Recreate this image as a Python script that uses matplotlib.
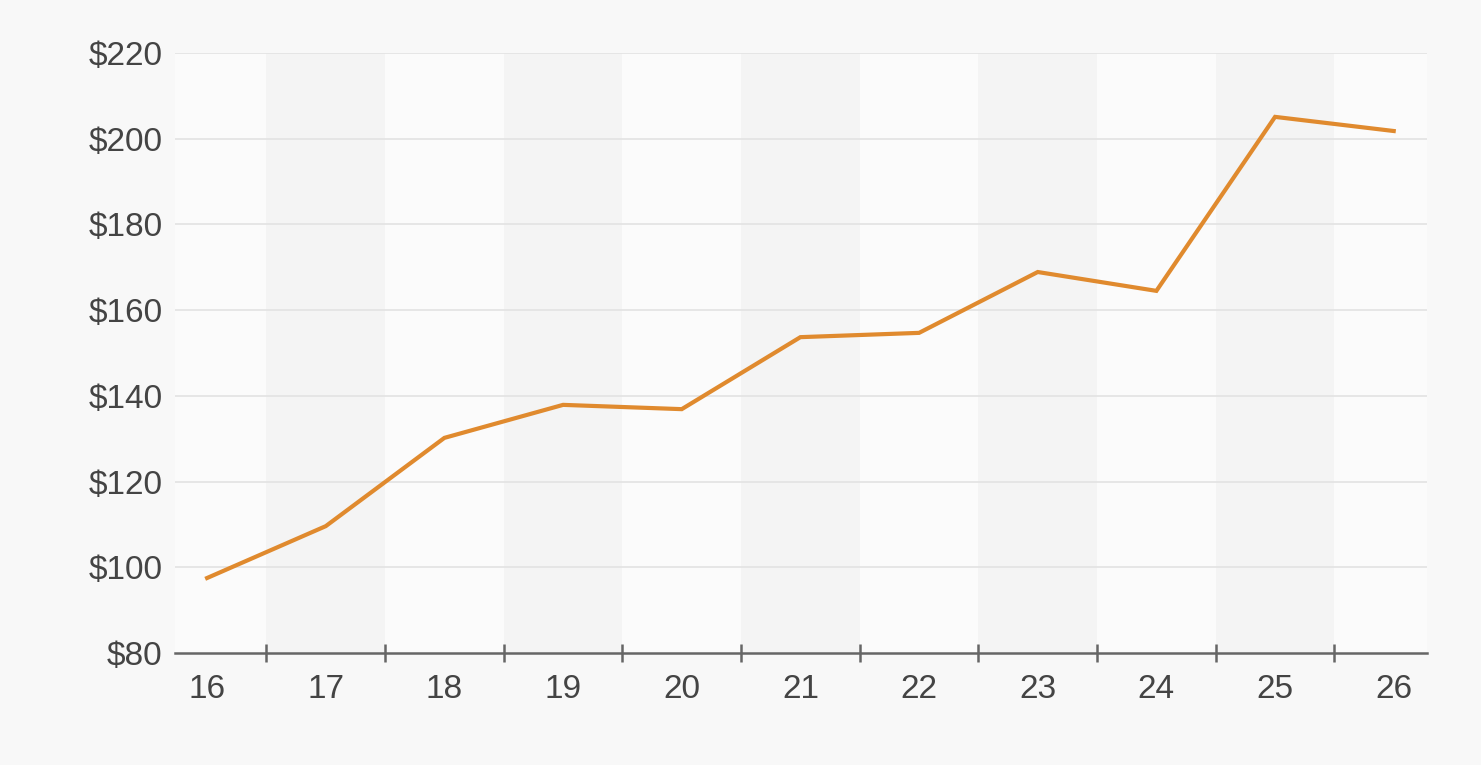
import numpy as np
import matplotlib.pyplot as plt
from matplotlib.ticker import FixedLocator, FuncFormatter

# values
ages = ["16", "17", "18", "19", "20", "21", "22", "23", "24", "25", "26"]
prices = [97.5, 109.6, 130.2, 137.9, 136.9, 153.7, 154.7, 168.9, 164.5, 205.1, 201.8]
y_ticks = [80, 100, 120, 140, 160, 180, 200, 220]

plt.rcParams['font.family'] = ['Liberation Sans', 'DejaVu Sans']

fig = plt.figure(figsize=(14.81, 7.65), dpi=100)
fig.patch.set_facecolor('#f8f8f8')
ax = fig.add_axes([0.1182, 0.1464, 0.8453, 0.7843])
ax.set_facecolor('#fbfbfb')

x = np.arange(len(ages))

# alternating column bands
for i in range(1, len(ages), 2):
    ax.axvspan(i - 0.5, i + 0.5, color='#f4f4f4', zorder=0, lw=0)

for yv in y_ticks[1:]:
    ax.axhline(yv, color='#e2e2e2', lw=1.2, zorder=1)

ax.plot(x, prices, color='#e08a2e', lw=3.0, solid_joinstyle='miter', zorder=3)

ax.set_xlim(-0.27, len(ages) - 1 + 0.28)
ax.set_ylim(y_ticks[0], y_ticks[-1])

for side in ['top', 'right', 'left']:
    ax.spines[side].set_visible(False)
ax.spines['bottom'].set_color('#666666')
ax.spines['bottom'].set_linewidth(1.8)

# boundary ticks, no labels
ax.xaxis.set_major_locator(FixedLocator(x[:-1] + 0.5))
ax.xaxis.set_major_formatter(FuncFormatter(lambda v, p: ""))
ax.tick_params(axis='x', which='major', direction='inout', length=13,
               width=1.8, color='#666666')
# category labels at centers
ax.xaxis.set_minor_locator(FixedLocator(x))
ax.set_xticklabels(ages, minor=True)
ax.tick_params(axis='x', which='minor', length=0, pad=15,
               labelsize=24, labelcolor='#444444')

ax.set_yticks(y_ticks)
ax.set_yticklabels(["$%d" % v for v in y_ticks])
ax.tick_params(axis='y', length=0, pad=9, labelsize=24, labelcolor='#444444')

fig.savefig('out.png', dpi=100, facecolor=fig.get_facecolor())
